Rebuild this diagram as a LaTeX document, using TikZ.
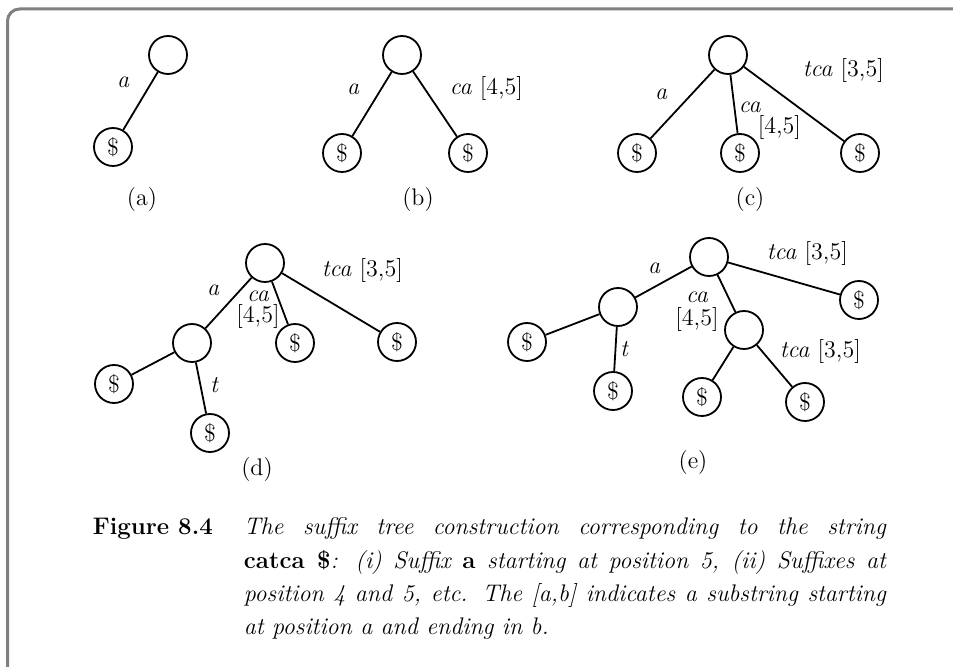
\documentclass[tikz,border=0pt]{standalone}
\usepackage{fontspec}
\usepackage{xcolor}
\usetikzlibrary{positioning}
\definecolor{framegray}{RGB}{128,128,128}
\tikzset{
  tnode/.style={circle, draw, minimum size=19pt, inner sep=0pt},
  lbl/.style={inner sep=0pt, font=\fontsize{12}{14}\selectfont\itshape},
  sublbl/.style={inner sep=0pt},
  captext/.style={inner sep=0pt, font=\fontsize{12}{16.65}\selectfont}
}

\begin{document}
\begin{tikzpicture}[x=0.5pt, y=-0.5pt, line width=0.9pt, font=\fontsize{12}{14}\selectfont]
\useasboundingbox (0,0) rectangle (953,667);
\draw[framegray, line width=1.5pt, rounded corners=6pt] (7.5,690) -- (7.5,9) -- (980,9);
\begin{scope}[shift={(168,55)}]
\node[tnode] (aroot) at (0,0) {};
\node[tnode] (a1) at (-55,92) {\$};
\node[lbl] (alab) at (-45,27) {a};
\node[sublbl] (acap) at (-26,145) {(a)};
\draw (aroot) -- (a1);
\end{scope}
\begin{scope}[shift={(402,55)}]
\node[tnode] (broot) at (0,0) {};
\node[tnode] (b1) at (-60,98) {\$};
\node[tnode] (b2) at (66,98) {\$};
\node[lbl] (blab1) at (-49,34) {a};
\node[lbl, anchor=west] (blab2) at (47,34) {ca \upshape[4,5]};
\node[sublbl] (bcap) at (16,145) {(b)};
\draw (broot) -- (b1);
\draw (broot) -- (b2);
\end{scope}
\begin{scope}[shift={(728,55)}]
\node[tnode] (croot) at (0,0) {};
\node[tnode] (c1) at (-91,98) {\$};
\node[tnode] (c2) at (12,98) {\$};
\node[tnode] (c3) at (132,98) {\$};
\node[lbl] (clab1) at (-67,39) {a};
\node[lbl, anchor=west] (clab2) at (10,52) {ca};
\node[lbl, anchor=west] (clab3) at (29,73) {\upshape[4,5]};
\node[lbl, anchor=west] (clab4) at (74,16) {tca \upshape[3,5]};
\node[sublbl] (ccap) at (22,145) {(c)};
\draw (croot) -- (c1);
\draw (croot) -- (c2);
\draw (croot) -- (c3);
\end{scope}
\begin{scope}[shift={(265,263)}]
\node[tnode] (droot) at (0,0) {};
\node[tnode] (d1) at (-73,80) {};
\node[tnode] (d2) at (30,80) {\$};
\node[tnode] (d3) at (132,79) {\$};
\node[tnode] (d4) at (-151,121) {\$};
\node[tnode] (d5) at (-55,170) {\$};
\node[lbl] (dlab1) at (-52,27) {a};
\node[lbl] (dlab2) at (-7,33) {ca};
\node[lbl] (dlab3) at (-7,54) {\upshape[4,5]};
\node[lbl, anchor=west] (dlab4) at (56,8) {tca \upshape[3,5]};
\node[lbl] (dlab5) at (-51,122) {t};
\node[sublbl] (dcap) at (-8,207) {(d)};
\draw (droot) -- (d1);
\draw (droot) -- (d2);
\draw (droot) -- (d3);
\draw (d1) -- (d4);
\draw (d1) -- (d5);
\end{scope}
\begin{scope}[shift={(709,257)}]
\node[tnode] (eroot) at (0,0) {};
\node[tnode] (e1) at (-91,50) {};
\node[tnode] (e2) at (-182,85) {\$};
\node[tnode] (e3) at (-96,134) {\$};
\node[tnode] (e4) at (35,73) {};
\node[tnode] (e5) at (-7,140) {\$};
\node[tnode] (e6) at (96,145) {\$};
\node[tnode] (e7) at (150,43) {\$};
\node[lbl] (elab1) at (-55,11) {a};
\node[lbl] (elab2) at (-12,40) {ca};
\node[lbl] (elab3) at (-12,63) {\upshape[4,5]};
\node[lbl, anchor=west] (elab4) at (57,-3) {tca \upshape[3,5]};
\node[lbl] (elab5) at (-85,92) {t};
\node[lbl, anchor=west] (elab6) at (70,95) {tca \upshape[3,5]};
\node[sublbl] (ecap) at (-16,206) {(e)};
\draw (eroot) -- (e1);
\draw (eroot) -- (e4);
\draw (eroot) -- (e7);
\draw (e1) -- (e2);
\draw (e1) -- (e3);
\draw (e4) -- (e5);
\draw (e4) -- (e6);
\end{scope}
\node[captext, anchor=base west, font=\fontsize{12}{16.65}\selectfont\bfseries] (figno) at (92,535) {Figure 8.4};
\node[captext, anchor=base west, text width=321pt, align=justify] (figtext) at (243,535)
  {\itshape The suffix tree construction corresponding to the string\linebreak
  {\upshape\bfseries catca \$}: (i) Suffix {\upshape\bfseries a} starting at position 5, (ii) Suffixes at\linebreak
  position 4 and 5, etc. The [a,b] indicates a substring starting\linebreak
  at position a and ending in b.};
\end{tikzpicture}
\end{document}
